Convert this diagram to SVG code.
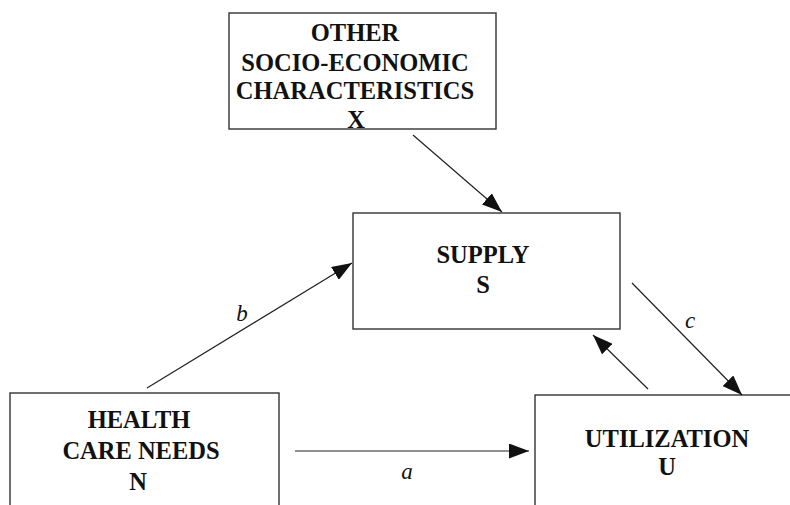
<svg xmlns="http://www.w3.org/2000/svg" width="790" height="505" viewBox="0 0 790 505">
<defs>
<style>
.box{fill:#fff;stroke:#333;stroke-width:1.4}
.t{font-family:'Liberation Serif','Times New Roman',serif;font-weight:bold;font-size:24.5px;fill:#111;text-anchor:middle}
.lbl{font-family:'Liberation Serif','Times New Roman',serif;font-style:italic;font-size:23px;fill:#111;text-anchor:middle}
.edge{stroke:#222;stroke-width:1.2;fill:none;marker-end:url(#ah)}
</style>
<marker id="ah" markerUnits="userSpaceOnUse" markerWidth="21" markerHeight="15" refX="20" refY="7.5" orient="auto">
<path d="M0,0 L20,7.5 L0,15 z" fill="#111"/>
</marker>
</defs>
<rect width="790" height="505" fill="#fff"/>
<g id="node-x">
<rect class="box" x="229" y="13" width="267" height="116"/>
<text class="t" x="355" y="41">OTHER</text>
<text class="t" x="355" y="71">SOCIO-ECONOMIC</text>
<text class="t" x="355" y="99">CHARACTERISTICS</text>
<text class="t" x="356" y="128">X</text>
</g>
<g id="node-s">
<rect class="box" x="353" y="213" width="267" height="116"/>
<text class="t" x="483" y="263">SUPPLY</text>
<text class="t" x="483" y="293">S</text>
</g>
<g id="node-n">
<rect class="box" x="10" y="393" width="269" height="130"/>
<text class="t" x="139" y="428">HEALTH</text>
<text class="t" x="141" y="459">CARE NEEDS</text>
<text class="t" x="138" y="490">N</text>
</g>
<g id="node-u">
<rect class="box" x="535" y="395" width="270" height="130"/>
<text class="t" x="667" y="447">UTILIZATION</text>
<text class="t" x="667" y="475">U</text>
</g>
<g id="connectors">
<line class="edge" x1="413" y1="135" x2="502" y2="212"/>
<line class="edge" x1="147" y1="388" x2="352" y2="263"/>
<line class="edge" x1="632" y1="283" x2="742" y2="395"/>
<line class="edge" x1="648" y1="389" x2="593" y2="335"/>
<line class="edge" x1="295" y1="451" x2="529" y2="451"/>
<text class="lbl" x="242" y="321">b</text>
<text class="lbl" x="690" y="328">c</text>
<text class="lbl" x="407" y="479">a</text>
</g>
</svg>
